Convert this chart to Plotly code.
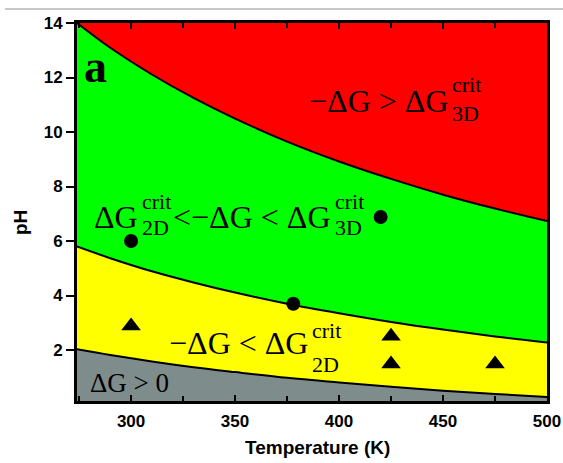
import plotly.graph_objects as go

# Temperature grid (K) at which the phase boundaries were read
temperature = [274, 290, 310, 330, 350, 375, 400, 425, 450, 475, 500]

# pH boundaries between the nucleation regimes
ph_3d_crit = [14.0, 13.09, 12.11, 11.25, 10.49, 9.65, 8.92, 8.28, 7.70, 7.19, 6.73]
ph_2d_crit = [5.80, 5.37, 4.89, 4.48, 4.11, 3.70, 3.35, 3.03, 2.75, 2.50, 2.28]
ph_zero = [2.03, 1.82, 1.58, 1.37, 1.19, 0.98, 0.81, 0.65, 0.51, 0.39, 0.28]

# Experimental conditions: circles and triangles
circle_T = [300, 378, 420]
circle_pH = [6.0, 3.7, 6.88]
triangle_T = [300, 425, 425, 475]
triangle_pH = [2.88, 2.51, 1.49, 1.49]

x_ticks = [300, 350, 400, 450, 500]
y_ticks = [2, 4, 6, 8, 10, 12, 14]

RED = "#FF0000"
GREEN = "#00FF00"
YELLOW = "#FFFF00"
GREY = "#7F8C8C"
SERIF = "Liberation Serif, Times New Roman, serif"
SANS = "Liberation Sans, Arial, sans-serif"

fig = go.Figure()

# Stacked fills: green below the 3D boundary, yellow below the 2D one, grey below ΔG = 0
for ys, color in [(ph_3d_crit, GREEN), (ph_2d_crit, YELLOW), (ph_zero, GREY)]:
    fig.add_trace(go.Scatter(
        x=temperature, y=ys, mode="lines",
        line=dict(color="black", width=2, shape="spline"),
        fill="tozeroy", fillcolor=color, hoverinfo="skip", showlegend=False,
    ))

fig.add_trace(go.Scatter(
    x=circle_T, y=circle_pH, mode="markers",
    marker=dict(symbol="circle", size=14, color="black"), showlegend=False,
))
fig.add_trace(go.Scatter(
    x=triangle_T, y=triangle_pH, mode="markers",
    marker=dict(symbol="triangle-up", size=17, color="black"), showlegend=False,
))

MAIN = 32
SCRIPT = 22


def label(x, y, text, anchor="right", size=MAIN, yshift=0, bold=False):
    fig.add_annotation(
        x=x, y=y, xref="x", yref="y", text=text, showarrow=False,
        xanchor=anchor, yanchor="middle", yshift=yshift,
        font=dict(family=SERIF, size=size, color="black",
                  weight="bold" if bold else "normal"),
    )


def crit_scripts(x, y, sub, up, down):
    label(x, y, "crit", anchor="left", size=SCRIPT, yshift=up)
    label(x, y, sub, anchor="left", size=SCRIPT, yshift=down)


# −ΔG > ΔG_3D^crit
label(453.4, 11.13, "\u2212\u0394G > \u0394G")
crit_scripts(453.4, 11.13, "3D", 17, -12)

# ΔG_2D^crit < −ΔG < ΔG_3D^crit
label(304.3, 6.9, "\u0394G")
crit_scripts(304.3, 6.9, "2D", 15, -11)
label(397.1, 6.9, "<\u2212\u0394G < \u0394G")
crit_scripts(397.1, 6.9, "3D", 15, -11)

# −ΔG < ΔG_2D^crit
label(386.0, 2.26, "\u2212\u0394G < \u0394G")
crit_scripts(386.0, 2.26, "2D", 12, -22)

# ΔG > 0
label(299.2, 0.78, "\u0394G > 0", anchor="center", size=27)

# panel letter
label(283.1, 12.42, "a", anchor="center", size=46, bold=True)

# axis titles
fig.add_annotation(
    x=0.511, y=-0.124, xref="paper", yref="paper", text="Temperature (K)",
    showarrow=False, xanchor="center", yanchor="middle",
    font=dict(family=SANS, size=19, color="black", weight="bold"),
)
fig.add_annotation(
    x=-0.119, y=0.471, xref="paper", yref="paper", text="pH", textangle=-90,
    showarrow=False, xanchor="center", yanchor="middle",
    font=dict(family=SANS, size=19, color="black", weight="bold"),
)

# thin rule above the panel
fig.add_shape(type="line", xref="paper", yref="paper",
              x0=-0.153, x1=1.04, y0=1.037, y1=1.037,
              line=dict(color="#C8C8C8", width=2))

fig.update_xaxes(
    range=[274, 500], tickvals=x_ticks, ticks="inside", ticklen=6, tickwidth=2,
    tickcolor="black", mirror="ticks", showline=True, linecolor="black", linewidth=3,
    minor=dict(dtick=25, tick0=275, ticks="inside", ticklen=5, tickwidth=2, tickcolor="black"),
    showgrid=False, zeroline=False, ticklabelstandoff=3, automargin=False,
    tickfont=dict(family=SANS, size=17, color="black", weight="bold"),
)
fig.update_yaxes(
    range=[0.13, 14], tickvals=y_ticks, ticks="outside", ticklen=8, tickwidth=2,
    tickcolor="black", mirror=True, showline=True, linecolor="black", linewidth=3,
    showgrid=False, zeroline=False, automargin=False,
    tickfont=dict(family=SANS, size=17, color="black", weight="bold"),
)

fig.update_layout(
    width=563, height=463,
    margin=dict(l=77, r=16, t=23, b=62),
    plot_bgcolor=RED, paper_bgcolor="white",
    showlegend=False,
)

fig.write_html("out.html")
